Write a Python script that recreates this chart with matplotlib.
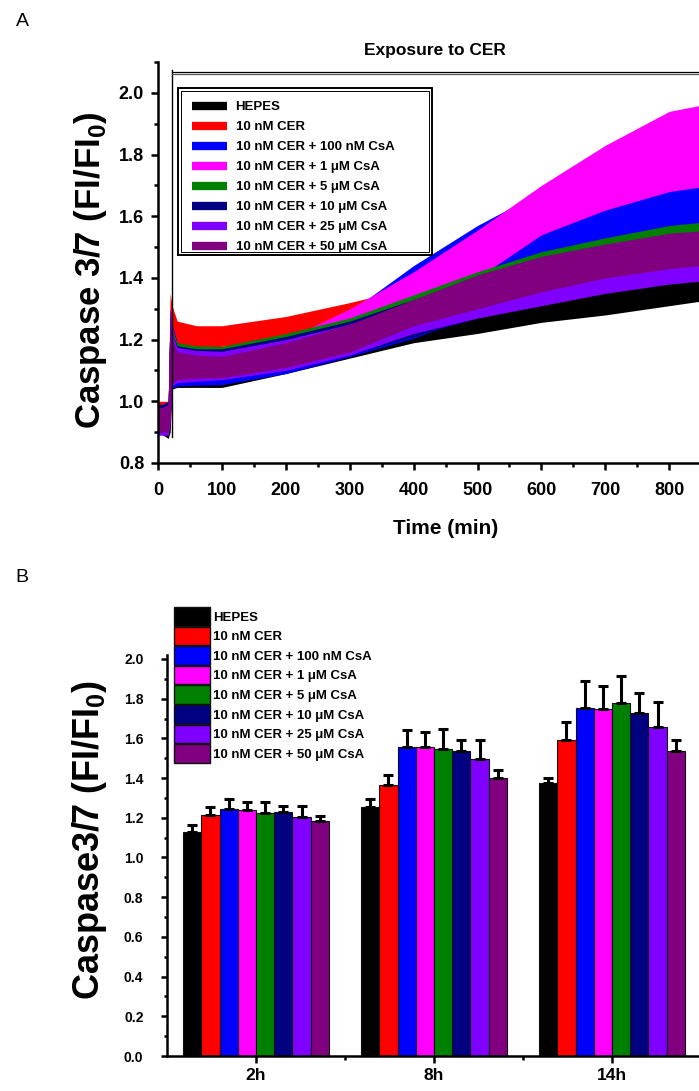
import matplotlib
matplotlib.use("Agg")
import matplotlib.pyplot as plt
from matplotlib.lines import Line2D
from matplotlib.patches import Rectangle, Patch
from matplotlib.ticker import MultipleLocator, FixedLocator


W, H = 699, 1091

LABELS = [
    "HEPES",
    "10 nM CER",
    "10 nM CER + 100 nM CsA",
    "10 nM CER + 1 \u03bcM CsA",
    "10 nM CER + 5 \u03bcM CsA",
    "10 nM CER + 10 \u03bcM CsA",
    "10 nM CER + 25 \u03bcM CsA",
    "10 nM CER + 50 \u03bcM CsA",
]
COLORS = ["#000000", "#ff0000", "#0000ff", "#ff00ff", "#008000", "#000080", "#8000ff", "#800080"]

# panel A: kinetic traces, band = mean +/- spread
TIME = [0, 8, 16, 19, 22, 30, 60, 100, 200, 300, 400, 500, 600, 700, 800, 900]
LO = [
    [0.90, 0.89, 0.88, 0.90, 1.04, 1.045, 1.045, 1.045, 1.09, 1.14, 1.19, 1.22, 1.256, 1.28, 1.31, 1.34],
    [0.93, 0.93, 0.94, 1.00, 1.14, 1.17, 1.175, 1.178, 1.20, 1.24, 1.29, 1.34, 1.39, 1.44, 1.49, 1.52],
    [0.90, 0.90, 0.90, 0.95, 1.04, 1.05, 1.052, 1.054, 1.09, 1.145, 1.205, 1.28, 1.34, 1.40, 1.45, 1.48],
    [0.91, 0.91, 0.91, 0.96, 1.06, 1.08, 1.09, 1.10, 1.13, 1.17, 1.26, 1.40, 1.54, 1.62, 1.68, 1.71],
    [0.91, 0.91, 0.91, 0.96, 1.06, 1.08, 1.085, 1.09, 1.12, 1.16, 1.22, 1.29, 1.35, 1.40, 1.44, 1.46],
    [0.90, 0.90, 0.90, 0.95, 1.05, 1.06, 1.065, 1.07, 1.10, 1.15, 1.21, 1.27, 1.32, 1.36, 1.40, 1.42],
    [0.89, 0.89, 0.89, 0.93, 1.05, 1.06, 1.065, 1.07, 1.10, 1.15, 1.22, 1.27, 1.31, 1.35, 1.38, 1.40],
    [0.90, 0.90, 0.90, 0.94, 1.06, 1.07, 1.075, 1.077, 1.11, 1.16, 1.245, 1.30, 1.355, 1.40, 1.43, 1.45],
]
HI = [
    [0.99, 0.99, 1.00, 1.28, 1.26, 1.17, 1.13, 1.12, 1.16, 1.21, 1.26, 1.29, 1.33, 1.36, 1.39, 1.42],
    [1.00, 1.00, 1.00, 1.35, 1.31, 1.26, 1.245, 1.245, 1.275, 1.32, 1.37, 1.43, 1.49, 1.545, 1.59, 1.61],
    [0.99, 0.99, 1.00, 1.30, 1.25, 1.19, 1.17, 1.16, 1.20, 1.29, 1.44, 1.57, 1.68, 1.70, 1.72, 1.74],
    [0.99, 0.99, 1.00, 1.30, 1.24, 1.18, 1.16, 1.15, 1.20, 1.30, 1.42, 1.555, 1.70, 1.83, 1.94, 1.98],
    [0.99, 0.99, 1.00, 1.29, 1.23, 1.19, 1.18, 1.178, 1.22, 1.27, 1.345, 1.42, 1.485, 1.53, 1.57, 1.59],
    [0.99, 0.99, 1.00, 1.29, 1.22, 1.18, 1.17, 1.17, 1.21, 1.26, 1.33, 1.40, 1.46, 1.50, 1.54, 1.56],
    [0.98, 0.98, 0.99, 1.30, 1.22, 1.175, 1.165, 1.162, 1.20, 1.25, 1.32, 1.38, 1.43, 1.47, 1.50, 1.52],
    [0.98, 0.98, 0.99, 1.28, 1.20, 1.16, 1.15, 1.146, 1.19, 1.25, 1.33, 1.41, 1.47, 1.51, 1.545, 1.56],
]
EXPOSURE_START = 22

# panel B: bar means and upper error (cap position) per condition
GROUPS = ["2h", "8h", "14h"]
MEANS = [
    [1.13, 1.256, 1.377],
    [1.213, 1.363, 1.59],
    [1.246, 1.558, 1.752],
    [1.241, 1.558, 1.749],
    [1.225, 1.544, 1.779],
    [1.23, 1.534, 1.729],
    [1.205, 1.494, 1.657],
    [1.182, 1.40, 1.534],
]
ERRS = [
    [0.032, 0.04, 0.023],
    [0.043, 0.051, 0.09],
    [0.05, 0.082, 0.138],
    [0.039, 0.075, 0.117],
    [0.055, 0.101, 0.134],
    [0.028, 0.06, 0.101],
    [0.053, 0.10, 0.128],
    [0.028, 0.04, 0.06],
]


def fig_box(x0, y0, x1, y1):
    # pixel box (top-left origin) -> figure fraction rect
    return [x0 / W, 1 - y1 / H, (x1 - x0) / W, (y1 - y0) / H]


def style_axis(ax, lw=1.8):
    for side in ("top", "right"):
        ax.spines[side].set_visible(False)
    for side in ("left", "bottom"):
        ax.spines[side].set_linewidth(lw)
    ax.tick_params(which="major", direction="out", length=5, width=lw)
    ax.tick_params(which="minor", direction="out", length=3, width=lw)


def plot_kinetics(fig):
    ax = fig.add_axes(fig_box(158, 62, 158 + 900 * 0.639, 463))
    for lo, hi, c in zip(LO, HI, COLORS):
        ax.fill_between(TIME, lo, hi, color=c, linewidth=0)
    ax.set_xlim(0, 900)
    ax.set_ylim(0.8, 2.1)
    style_axis(ax)
    ax.xaxis.set_major_locator(FixedLocator(range(0, 900, 100)))
    ax.xaxis.set_minor_locator(MultipleLocator(50))
    ax.yaxis.set_major_locator(FixedLocator([0.8, 1.0, 1.2, 1.4, 1.6, 1.8, 2.0]))
    ax.yaxis.set_minor_locator(MultipleLocator(0.1))
    ax.set_yticklabels(["0.8", "1.0", "1.2", "1.4", "1.6", "1.8", "2.0"])
    ax.tick_params(axis="y", pad=5)
    ax.tick_params(axis="x", pad=9)
    for lab in ax.get_xticklabels() + ax.get_yticklabels():
        lab.set_fontsize(13)
        lab.set_fontweight("bold")
    ax.set_xlabel("Time (min)", fontsize=15, fontweight="bold", labelpad=14)

    # exposure bracket
    ax.plot([EXPOSURE_START, EXPOSURE_START], [0.885, 2.075], color="black", lw=1.0, clip_on=False)
    ax.plot([EXPOSURE_START, 900], [2.068, 2.068], color="black", lw=0.9, clip_on=False)
    ax.plot([EXPOSURE_START, 900], [2.060, 2.060], color="#555555", lw=0.9, clip_on=False)
    fig.text(435 / W, 1 - 51 / H, "Exposure to CER", ha="center", va="center", fontsize=12.5, fontweight="bold")

    # legend with a double frame
    fig.patches.append(Rectangle((178 / W, 1 - 255 / H), 254 / W, 167 / H, transform=fig.transFigure,
                                 fill=False, edgecolor="black", lw=1.4))
    fig.patches.append(Rectangle((181 / W, 1 - 252 / H), 248 / W, 161 / H, transform=fig.transFigure,
                                 fill=False, edgecolor="black", lw=0.7))
    handles = [Line2D([], [], color=c, lw=6, solid_capstyle="butt") for c in COLORS]
    ax.legend(handles, LABELS, loc="upper left", bbox_to_anchor=(192 / W, 1 - 101 / H),
              bbox_transform=fig.transFigure, frameon=False, prop={"size": 9.5, "weight": "bold"},
              handlelength=2.65, handletextpad=0.65, labelspacing=0.59, borderpad=0, borderaxespad=0)
    fig.text(91 / W, 1 - 270 / H, "Caspase 3/7 (FI/FI$_{\\mathbf{0}}$)", rotation=90,
             ha="center", va="center", fontsize=25, fontweight="bold")


def plot_bars(fig):
    ax = fig.add_axes(fig_box(167, 655, 701, 1056))
    width = 0.1025
    for i, (m, e, c, lab) in enumerate(zip(MEANS, ERRS, COLORS, LABELS)):
        xs = [g + 1 + (i - 3.5) * width for g in range(len(GROUPS))]
        ax.bar(xs, m, width=width, color=c, edgecolor="#111111", linewidth=0.8, label=lab, zorder=2)
        ax.errorbar(xs, m, yerr=[[0] * len(e), e], fmt="none", ecolor="black", elinewidth=2.2,
                    capsize=3.5, capthick=2.2, zorder=3)
    ax.set_xlim(0.5, 3.5)
    ax.set_ylim(0, 2.02)
    style_axis(ax)
    ax.set_xticks([1, 2, 3])
    ax.set_xticklabels(GROUPS, fontsize=12.5, fontweight="bold")
    ax.xaxis.set_minor_locator(FixedLocator([1.5, 2.5]))
    ax.yaxis.set_minor_locator(MultipleLocator(0.1))
    ticks = [0, 0.2, 0.4, 0.6, 0.8, 1.0, 1.2, 1.4, 1.6, 1.8, 2.0]
    ax.set_yticks(ticks)
    ax.set_yticklabels(["%.1f" % v for v in ticks], fontsize=10, fontweight="bold")
    ax.tick_params(axis="y", which="major", pad=13, length=4)
    ax.tick_params(axis="y", which="minor", length=2.5)
    handles = [Patch(facecolor=c, edgecolor="#111111", lw=1.0) for c in COLORS]
    ax.legend(handles, LABELS, loc="upper left", bbox_to_anchor=(174 / W, 1 - 607 / H),
              bbox_transform=fig.transFigure, frameon=False, prop={"size": 9.5, "weight": "bold"},
              handlelength=2.7, handleheight=1.8, handletextpad=0.25, labelspacing=0.07,
              borderpad=0, borderaxespad=0)
    fig.text(90 / W, 1 - 840 / H, "Caspase3/7 (FI/FI$_{\\mathbf{0}}$)", rotation=90,
             ha="center", va="center", fontsize=26, fontweight="bold")


def main():
    plt.rcParams.update({
        "font.family": ["Liberation Sans", "DejaVu Sans"],
        "mathtext.fontset": "custom",
        "mathtext.rm": "Liberation Sans",
        "mathtext.bf": "Liberation Sans:bold",
    })
    fig = plt.figure(figsize=(W / 100, H / 100), dpi=100)
    plot_kinetics(fig)
    plot_bars(fig)
    fig.text(22 / W, 1 - 22 / H, "A", ha="center", va="center", fontsize=14)
    fig.text(22 / W, 1 - 578 / H, "B", ha="center", va="center", fontsize=14)
    fig.savefig("out.png", dpi=100)
    plt.close(fig)


if __name__ == "__main__":
    main()
